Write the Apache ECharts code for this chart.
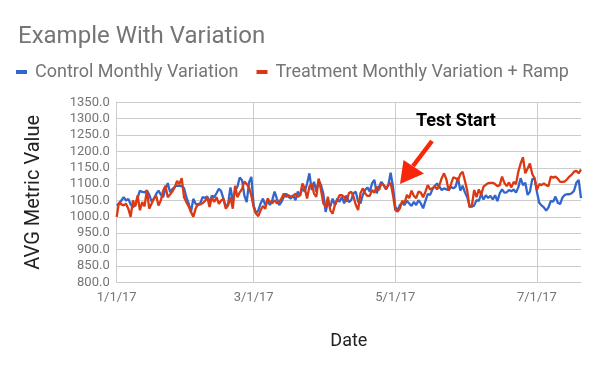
<!DOCTYPE html>
<html>
<head>
<meta charset="utf-8">
<script src="https://cdn.jsdelivr.net/npm/echarts@6/dist/echarts.min.js"></script>
<style>
html,body{margin:0;padding:0;background:#fff;}
#chart{width:600px;height:371px;}
</style>
</head>
<body>
<div id="chart"></div>
<script>
// ---- data ----
var startDate = [2017, 0, 1];
var tickLabels = ['1/1/17', '3/1/17', '5/1/17', '7/1/17'];
var seriesNames = ['Control Monthly Variation', 'Treatment Monthly Variation + Ramp'];
var control = [
1035,1040,1050,1060,1050,1055,1038,1030,1035,1058,
1080,1076,1075,1080,1068,1047,1055,1070,1080,1068,
1060,1085,1103,1075,1085,1092,1095,1095,1094,1088,
1060,1040,1015,1055,1040,1035,1042,1060,1058,1062,
1045,1065,1060,1072,1086,1078,1055,1030,1040,1090,
1050,1080,1092,1120,1112,1065,1045,1105,1122,1035,
1010,1020,1041,1056,1036,1049,1036,1051,1077,1056,
1036,1046,1061,1071,1061,1056,1066,1051,1077,1066,
1087,1077,1102,1133,1082,1107,1077,1112,1097,1071,
1015,1046,1031,1056,1036,1056,1046,1061,1041,1066,
1045,1051,1072,1077,1046,1041,1067,1082,1090,1077,
1102,1113,1072,1092,1107,1097,1084,1097,1135,1092,
1031,1019,1036,1043,1036,1049,1041,1033,1046,1036,
1051,1041,1026,1049,1070,1067,1084,1094,1102,1092,
1082,1087,1084,1082,1092,1087,1092,1120,1080,1095,
1075,1060,1033,1031,1035,1051,1049,1070,1053,1066,
1058,1064,1053,1066,1048,1072,1084,1074,1075,1082,
1078,1084,1074,1090,1118,1097,1104,1067,1077,1115,
1118,1077,1043,1035,1029,1019,1029,1049,1046,1062,
1043,1039,1059,1067,1069,1069,1072,1080,1104,1113,
1057
];
var treatment = [
1000,1045,1038,1035,1040,1025,1000,1050,1032,1065,
1020,1045,1032,1082,1025,1040,1055,1065,1035,1050,
1080,1095,1060,1068,1078,1090,1110,1100,1118,1060,
1045,1032,1015,1000,1025,1040,1038,1042,1048,1060,
1030,1060,1045,1060,1040,1050,1055,1025,1035,1060,
1025,1095,1060,1075,1085,1108,1100,1090,1065,1030,
1010,1002,1020,1033,1025,1056,1046,1041,1051,1041,
1046,1056,1071,1061,1066,1061,1063,1071,1061,1066,
1102,1087,1056,1092,1102,1071,1061,1117,1082,1041,
1031,1061,1020,1010,1036,1051,1066,1066,1061,1046,
1072,1077,1062,1036,1021,1072,1087,1072,1064,1064,
1082,1074,1092,1082,1102,1097,1087,1097,1104,1067,
1021,1016,1026,1049,1041,1067,1057,1080,1064,1057,
1077,1074,1060,1077,1097,1084,1087,1094,1084,1097,
1118,1133,1115,1080,1100,1121,1118,1111,1130,1138,
1110,1080,1029,1035,1082,1060,1084,1067,1092,1098,
1103,1104,1104,1100,1094,1097,1123,1104,1094,1105,
1090,1107,1100,1138,1163,1182,1133,1148,1163,1131,
1118,1082,1100,1097,1102,1097,1094,1123,1120,1123,
1117,1107,1107,1108,1115,1123,1129,1138,1141,1133,
1145
];

// category dates (one per day)
var dates = [];
for (var i = 0; i < control.length; i++) {
  var d = new Date(startDate[0], startDate[1], startDate[2] + i);
  dates.push((d.getMonth() + 1) + '/' + d.getDate() + '/' + String(d.getFullYear()).slice(2));
}

var FONT = 'Roboto, "Noto Sans", sans-serif';
var isTick = function (idx, val) { return tickLabels.indexOf(val) >= 0; };

var chart = echarts.init(document.getElementById('chart'), null, {renderer: 'canvas'});
chart.setOption({
  animation: false,
  backgroundColor: '#ffffff',
  title: {
    text: 'Example With Variation',
    left: 13, top: 20,
    textStyle: {fontFamily: FONT, fontSize: 24, fontWeight: 'normal', color: '#757575'}
  },
  legend: {
    left: 11, top: 58,
    icon: 'rect', itemWidth: 11, itemHeight: 4, itemGap: 18,
    textStyle: {fontFamily: FONT, fontSize: 18, color: '#757575', padding: [0, 0, 0, 3]},
    data: seriesNames
  },
  grid: {left: 116.7, right: 19, top: 102.3, bottom: 88.7, containLabel: false},
  xAxis: {
    type: 'category',
    data: dates,
    boundaryGap: false,
    name: 'Date',
    nameLocation: 'middle',
    nameGap: 50,
    nameTextStyle: {fontFamily: FONT, fontSize: 18, color: '#222222'},
    axisLine: {show: true, lineStyle: {color: '#cccccc', width: 1}},
    axisTick: {show: false},
    axisLabel: {interval: isTick, margin: 9, fontFamily: FONT, fontSize: 13, color: '#757575'},
    splitLine: {show: true, interval: isTick, lineStyle: {color: '#cccccc', width: 1}}
  },
  yAxis: {
    type: 'value',
    min: 800, max: 1350, interval: 50,
    name: 'AVG Metric Value',
    nameLocation: 'middle',
    nameGap: 73,
    nameTextStyle: {fontFamily: FONT, fontSize: 20, color: '#222222'},
    axisLine: {show: true, lineStyle: {color: '#cccccc', width: 1}},
    axisTick: {show: false},
    axisLabel: {margin: 7, fontFamily: FONT, fontSize: 13, color: '#757575',
      formatter: function (v) { return v.toFixed(1); }},
    splitLine: {show: true, lineStyle: {color: '#cccccc', width: 1}}
  },
  series: [
    {name: seriesNames[0], type: 'line', data: control, showSymbol: false,
     lineStyle: {width: 2.3, color: '#3366cc'}, itemStyle: {color: '#3366cc'}},
    {name: seriesNames[1], type: 'line', data: treatment, showSymbol: false,
     lineStyle: {width: 2.3, color: '#dc3912'}, itemStyle: {color: '#dc3912'}}
  ],
  graphic: [
    {type: 'text', left: 416, top: 112, z: 100,
     style: {text: 'Test Start', fontFamily: FONT, fontSize: 18, fontWeight: 'bold', fill: '#000000'}},
    {type: 'line', z: 100, shape: {x1: 432, y1: 141, x2: 413, y2: 166},
     style: {stroke: '#f8260a', lineWidth: 4.5}},
    {type: 'polygon', z: 100, shape: {points: [[400, 184], [403.5, 160], [424, 173.5]]},
     style: {fill: '#f8260a'}}
  ]
});
</script>
</body>
</html>
